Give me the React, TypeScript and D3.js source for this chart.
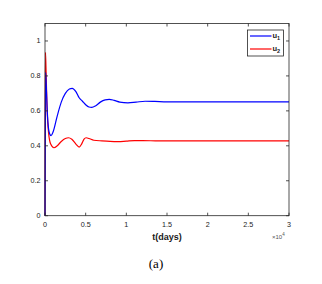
import React from "react";
import * as d3 from "d3";

const u1T = [0, 40, 80, 150, 300, 500, 740, 1000, 1500, 2000, 2500, 3000, 3350, 3800, 4200, 4600, 5000, 5400, 5750, 6200, 6800, 7400, 7900, 8500, 9200, 10200, 11200, 12300, 13500, 15000, 20000, 30000];
const u1V = [0, 0.5, 0.82, 0.75, 0.58, 0.48, 0.458, 0.48, 0.57, 0.65, 0.7, 0.725, 0.729, 0.71, 0.675, 0.655, 0.635, 0.622, 0.62, 0.628, 0.65, 0.663, 0.666, 0.66, 0.65, 0.646, 0.65, 0.655, 0.654, 0.652, 0.652, 0.652];

const u2T = [0, 30, 60, 120, 250, 450, 700, 1100, 1500, 2000, 2500, 2900, 3300, 3800, 4200, 4500, 4800, 5050, 5400, 6000, 7000, 8000, 9000, 10000, 11000, 12000, 14000, 30000];
const u2V = [0, 0.6, 0.935, 0.85, 0.62, 0.47, 0.41, 0.389, 0.4, 0.425, 0.442, 0.446, 0.437, 0.41, 0.393, 0.41, 0.438, 0.446, 0.442, 0.432, 0.428, 0.425, 0.424, 0.427, 0.43, 0.43, 0.428, 0.428];

const xTicks = [0, 5000, 10000, 15000, 20000, 25000, 30000];
const xTickLabels = ["0", "0.5", "1", "1.5", "2", "2.5", "3"];
const yTicks = [0, 0.2, 0.4, 0.6, 0.8, 1];
const yTickLabels = ["0", "0.2", "0.4", "0.6", "0.8", "1"];
const seriesNames = ["1", "2"];
const seriesColors = ["#0000ff", "#ff0000"];

export default function App() {
  const L = 45, R = 289, T = 23.5, B = 215.7;
  const x = d3.scaleLinear().domain([0, 30000]).range([L, R]);
  const y = d3.scaleLinear().domain([0, 1.1]).range([B, T]);
  const line = d3
    .line<[number, number]>()
    .x((d) => x(d[0]))
    .y((d) => y(d[1]))
    .curve(d3.curveMonotoneX);
  const d1 = line(u1T.map((t, i) => [t, u1V[i]] as [number, number])) || "";
  const d2 = line(u2T.map((t, i) => [t, u2V[i]] as [number, number])) || "";
  const font = "'Liberation Sans', Arial, Helvetica, sans-serif";
  const tk = 3;
  const ink = "#1a1a1a";
  return (
    <svg
      width={322}
      height={284}
      style={{ position: "absolute", left: 0, top: 0, background: "#fff" }}
      fontFamily={font}
    >
      <rect x={0} y={0} width={322} height={284} fill="#fff" />
      <path d={d2} fill="none" stroke={seriesColors[1]} strokeWidth={1.2} />
      <path d={d1} fill="none" stroke={seriesColors[0]} strokeWidth={1.2} />
      <rect x={L} y={T} width={R - L} height={B - T} fill="none" stroke="#262626" strokeWidth={0.8} />
      {xTicks.map((t, i) => (
        <g key={"x" + i}>
          <line x1={x(t)} x2={x(t)} y1={B} y2={B - tk} stroke="#262626" strokeWidth={0.8} />
          <line x1={x(t)} x2={x(t)} y1={T} y2={T + tk} stroke="#262626" strokeWidth={0.8} />
          <text x={x(t)} y={226.5} fontSize={7.2} textAnchor="middle" fill={ink}>
            {xTickLabels[i]}
          </text>
        </g>
      ))}
      {yTicks.map((t, i) => (
        <g key={"y" + i}>
          <line x1={L} x2={L + tk} y1={y(t)} y2={y(t)} stroke="#262626" strokeWidth={0.8} />
          <line x1={R} x2={R - tk} y1={y(t)} y2={y(t)} stroke="#262626" strokeWidth={0.8} />
          <text x={40.5} y={y(t) + 2.5} fontSize={7.2} textAnchor="end" fill={ink}>
            {yTickLabels[i]}
          </text>
        </g>
      ))}
      <text x={(L + R) / 2} y={239.5} fontSize={9} fontWeight="bold" textAnchor="middle" fill={ink}>
        t(days)
      </text>
      <text x={272} y={239} fontSize={6} fill="#555">
        ×10
        <tspan dy={-3} fontSize={4.5}>4</tspan>
      </text>
      <rect x={247.5} y={30} width={36} height={26} fill="#fff" stroke="#262626" strokeWidth={0.8} />
      {seriesNames.map((n, i) => (
        <g key={"l" + i}>
          <line x1={250} x2={271.5} y1={36 + i * 13} y2={36 + i * 13} stroke={seriesColors[i]} strokeWidth={1.2} />
          <text x={272.5} y={38 + i * 13} fontSize={7.5} fontWeight="bold" fill={ink}>
            u<tspan dy={2} fontSize={5.5}>{n}</tspan>
          </text>
        </g>
      ))}
      <text x={156} y={267.5} fontSize={13} textAnchor="middle" fontFamily="'Liberation Serif', 'Times New Roman', serif" fill="#000">
        (a)
      </text>
    </svg>
  );
}
